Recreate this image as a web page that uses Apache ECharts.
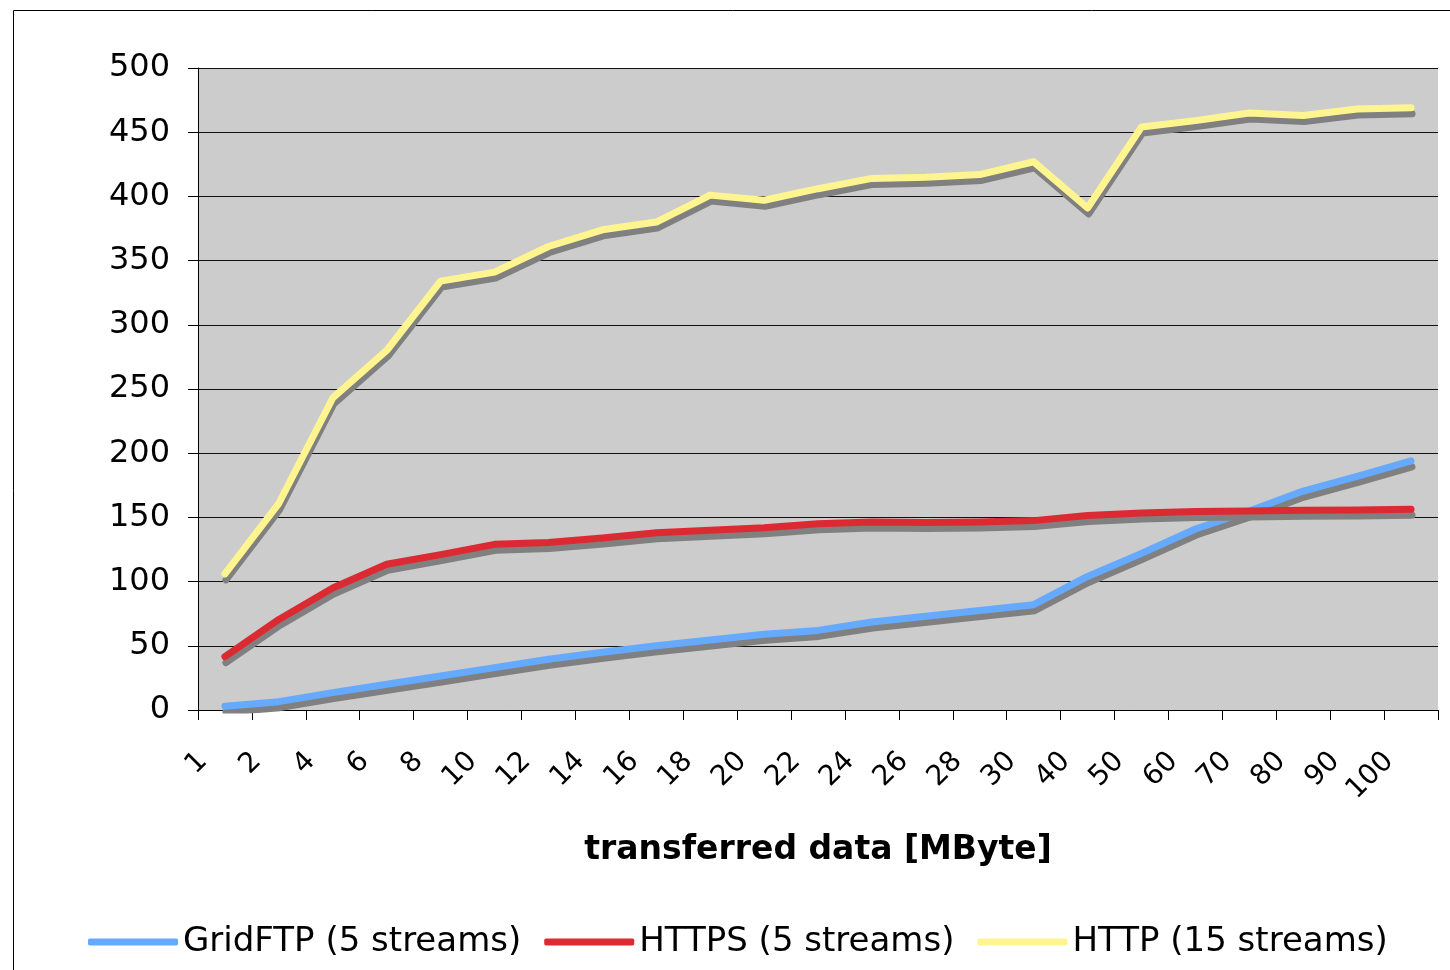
<!DOCTYPE html>
<html>
<head>
<meta charset="utf-8">
<script src="https://cdn.jsdelivr.net/npm/echarts@6/dist/echarts.min.js"></script>
<style>
html,body{margin:0;padding:0;background:#fff;}
#chart{width:1450px;height:970px;}
</style>
</head>
<body>
<div id="chart"></div>
<script>
var categories = ['1','2','4','6','8','10','12','14','16','18','20','22','24','26','28','30','40','50','60','70','80','90','100'];
var yTicks = [0,50,100,150,200,250,300,350,400,450,500];
var seriesNames = ['GridFTP (5 streams)','HTTPS (5 streams)','HTTP (15 streams)'];
var gridftp = [3, 6.5, 13.5, 20, 26.5, 33, 39.5, 45, 50, 54.5, 59, 62, 68.5, 73, 77.5, 82, 104, 122, 141, 155, 170.5, 182, 194];
var https = [41.5, 70.5, 95, 113.5, 121, 129, 130.5, 134, 138, 140, 142, 145, 146.5, 146, 146.5, 147.5, 151.5, 153.5, 154.5, 155, 155.5, 155.7, 156.3];
var http = [106, 161, 243, 280, 334, 341, 361, 374, 380, 401, 397, 406, 414, 415, 417, 427, 391, 454, 459, 465, 463, 468, 469];
var xTitle = 'transferred data [MByte]';

var colors = ['#66aaff', '#dc2a33', '#fff590'];
var FONT = 'DejaVu Sans, Verdana, sans-serif';

function mkSeries(name, data, color) {
  return {
    name: name, type: 'line', data: data, symbol: 'none', smooth: false,
    color: color, z: 3,
    itemStyle: {color: color},
    lineStyle: {
      color: color, width: 7, cap: 'round', join: 'round',
      shadowColor: '#808080', shadowOffsetX: 1, shadowOffsetY: 6, shadowBlur: 0
    }
  };
}

var chart = echarts.init(document.getElementById('chart'), null, {renderer: 'canvas'});
chart.setOption({
  animation: false,
  backgroundColor: '#ffffff',
  color: colors,
  graphic: [{
    type: 'rect', left: 11, top: 8, z: -10,
    shape: {x: 0, y: 0, width: 1460, height: 990},
    style: {fill: 'none', stroke: '#000', lineWidth: 1}
  }],
  grid: {left: 198, right: 12, top: 68, bottom: 260, show: true, backgroundColor: '#cccccc', borderWidth: 0},
  legend: {
    data: seriesNames, left: 83, top: 920, itemGap: 23,
    icon: 'roundRect',
    itemWidth: 90, itemHeight: 7,
    textStyle: {fontFamily: FONT, fontSize: 34, color: '#000'}
  },
  xAxis: {
    type: 'category', data: categories, boundaryGap: true,
    name: xTitle, nameLocation: 'middle', nameGap: 124,
    nameTextStyle: {fontFamily: FONT, fontSize: 33, fontWeight: 'bold', color: '#000'},
    axisLine: {show: true, lineStyle: {color: '#000', width: 1}},
    axisTick: {show: true, length: 10, lineStyle: {color: '#000'}},
    axisLabel: {rotate: 45, interval: 0, margin: 25, padding: [0, 31, 0, 0],
      fontFamily: FONT, fontSize: 28, color: '#000'},
    splitLine: {show: false}
  },
  yAxis: {
    type: 'value', min: 0, max: 500, interval: 50,
    axisLine: {show: true, lineStyle: {color: '#000', width: 1}},
    axisTick: {show: true, length: 10, lineStyle: {color: '#000'}},
    axisLabel: {margin: 28, fontFamily: FONT, fontSize: 32, color: '#000',
      formatter: function (v) { return yTicks.indexOf(v) >= 0 ? String(v) : ''; }},
    splitLine: {show: true, lineStyle: {color: '#111', width: 1}}
  },
  series: [
    mkSeries(seriesNames[0], gridftp, colors[0]),
    mkSeries(seriesNames[1], https, colors[1]),
    mkSeries(seriesNames[2], http, colors[2])
  ]
});
</script>
</body>
</html>
